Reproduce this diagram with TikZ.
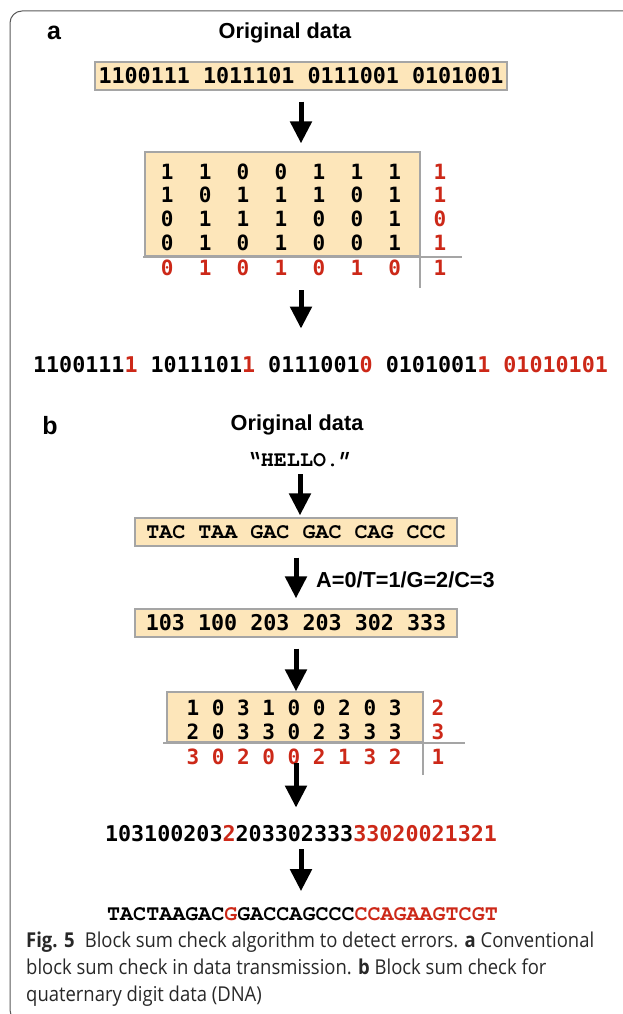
\documentclass[tikz,border=0pt]{standalone}
\usepackage{fontspec}
\setmainfont{Liberation Sans}
\newfontfamily\sansmono{DejaVu Sans Mono}
\newfontfamily\courmono{texgyrecursor}[Extension=.otf, UprightFont=*-regular, BoldFont=*-bold]
\newfontfamily\capfont[FakeStretch=0.9]{Open Sans}
\usetikzlibrary{arrows.meta,positioning}
\definecolor{boxfill}{RGB}{253,230,186}
\definecolor{boxline}{RGB}{165,165,165}
\definecolor{sumred}{RGB}{204,40,24}
\definecolor{captext}{RGB}{40,40,40}
\newcommand{\chk}[1]{\textcolor{sumred}{#1}}

\begin{document}
\begin{tikzpicture}[x=1pt, y=-1pt,
    panel/.style={inner sep=0pt, font=\fontsize{25}{28}\selectfont\bfseries},
    heading/.style={inner sep=0pt, font=\fontsize{21.7}{26}\selectfont\bfseries},
    digits/.style={inner sep=0pt, font=\fontsize{21.7}{26}\selectfont\sansmono\bfseries},
    gridrow/.style={inner sep=0pt, font=\fontsize{21}{26}\selectfont\sansmono\bfseries},
    codons/.style={inner sep=0pt, font=\fontsize{21.7}{26}\selectfont\courmono\bfseries},
    parity/.style={gridrow, text=sumred},
    databox/.style={draw=boxline, line width=1.2pt, fill=boxfill, inner sep=0pt, minimum height=28pt},
    block/.style={draw=boxline, line width=1.2pt, fill=boxfill, inner sep=0pt},
    rule/.style={draw=boxline, line width=1.5pt},
    bigarrow/.style={line width=5pt, -{Triangle[length=22pt, width=21pt]}},
    caption/.style={inner sep=0pt, anchor=base west, text=captext, font=\capfont\fontsize{20.5}{27}\selectfont}
]
\useasboundingbox (0,0) rectangle (623,1014);

% frame
\draw[gray!70!black, line width=1pt, rounded corners=12pt] (640,11) -- (10,11) -- (10,1022) -- (640,1022);

% panel a
\node[panel] (la) at (54,33) {a};
\node[heading] (oda) at (285,33) {Original data};
\node[databox, minimum width=412pt, digits] (rawa) at (301,76) {1100111~1011101~0111001~0101001};

\node[block, minimum width=275pt, minimum height=104pt] (blocka) at (282.5,204) {};
\node[gridrow] (ra1) at (281,172) {1~~1~~0~~0~~1~~1~~1};
\node[gridrow] (ra2) at (281,195) {1~~0~~1~~1~~1~~0~~1};
\node[gridrow] (ra3) at (281,219) {0~~1~~1~~1~~0~~0~~1};
\node[gridrow] (ra4) at (281,243) {0~~1~~0~~1~~0~~0~~1};
\node[parity] (sa) at (281,268) {0~~1~~0~~1~~0~~1~~0};
\node[parity] (pa1) at (440,172) {1};
\node[parity] (pa2) at (440,195) {1};
\node[parity] (pa3) at (440,219) {0};
\node[parity] (pa4) at (440,243) {1};
\node[parity] (pa5) at (440,268) {1};

\coordinate (hla) at (143,257);
\coordinate (hra) at (462,257);
\coordinate (vta) at (420,152);
\coordinate (vba) at (420,288);
\draw[rule] (hla) -- (hra);
\draw[rule] (vta) -- (vba);

\node[digits] (stra) at (320.5,365) {1100111\chk{1}~1011101\chk{1}~0111001\chk{0}~0101001\chk{1}~\chk{01010101}};

\draw[bigarrow, shorten <=11pt, shorten >=8pt] (rawa.south) -- (rawa.south |- blocka.north);
\draw[bigarrow, shorten <=2pt] (rawa.south |- vba) -- ([yshift=28pt]rawa.south |- stra.north);

% panel b
\node[panel] (lb) at (50,426) {b};
\node[heading] (odb) at (297,425) {Original data};
\node[codons] (msg) at (300,460) {“HELLO.”};
\node[databox, minimum width=322pt, codons] (codon) at (296,532) {TAC~TAA~GAC~GAC~CAG~CCC};
\node[databox, minimum width=322pt, digits] (quat) at (296,623) {103~100~203~203~302~333};
\node[heading, anchor=west] (map) at (316,580) {A=0/T=1/G=2/C=3};

\node[block, minimum width=256pt, minimum height=50pt] (blockb) at (295,717) {};
\node[gridrow] (rb1) at (294,708) {1~0~3~1~0~0~2~0~3};
\node[gridrow] (rb2) at (294,732) {2~0~3~3~0~2~3~3~3};
\node[parity] (sb) at (294,757) {3~0~2~0~0~2~1~3~2};
\node[parity] (pb1) at (438,708) {2};
\node[parity] (pb2) at (438,732) {3};
\node[parity] (pb3) at (438,757) {1};

\coordinate (hlb) at (163,743);
\coordinate (hrb) at (465,743);
\coordinate (vtb) at (423,692);
\coordinate (vbb) at (423,775);
\draw[rule] (hlb) -- (hrb);
\draw[rule] (vtb) -- (vbb);

\node[digits] (strb) at (301,834) {103100203\chk{2}203302333\chk{33020021321}};
\node[codons] (dna) at (302.5,914) {TACTAAGAC\chk{G}GACCAGCCC\chk{CCAGAAGTCGT}};

\draw[bigarrow, shorten <=7pt, shorten >=2pt] (msg.south) -- (msg.south |- codon.north);
\draw[bigarrow, shorten <=11pt, shorten >=10pt] (codon.south) -- (codon.south |- quat.north);
\draw[bigarrow, shorten <=11pt] (quat.south) -- (quat.south |- blockb.north);
\draw[bigarrow, shorten >=18pt] ([yshift=12pt]quat.south |- vbb) -- (quat.south |- strb.north);
\draw[bigarrow, shorten <=7pt, shorten >=16pt] (strb.south) -- (strb.south |- dna.north);

% caption
\node[caption] (cap1) at (26,947) {\textbf{Fig. 5}\enspace Block sum check algorithm to detect errors. \textbf{a} Conventional};
\node[caption] (cap2) at (26,974) {block sum check in data transmission. \textbf{b} Block sum check for};
\node[caption] (cap3) at (26,1001) {quaternary digit data (DNA)};
\end{tikzpicture}
\end{document}
